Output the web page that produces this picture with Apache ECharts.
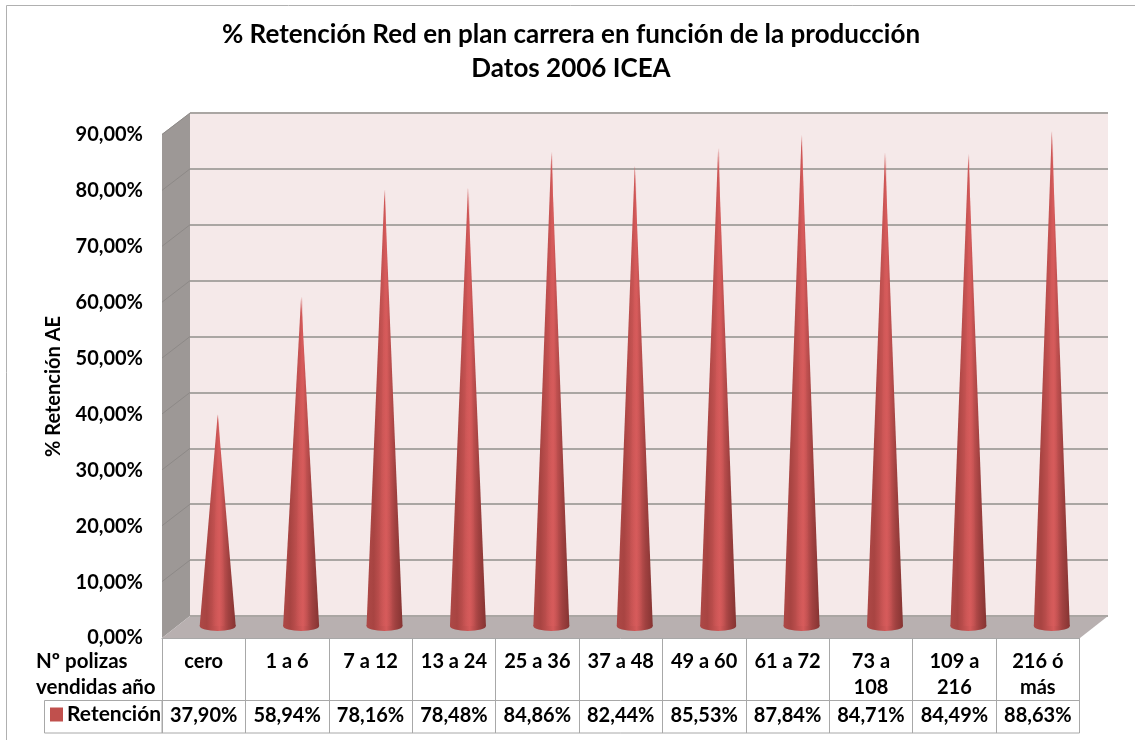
<!DOCTYPE html>
<html>
<head>
<meta charset="utf-8">
<title>% Retención Red</title>
<script src="https://cdn.jsdelivr.net/npm/echarts@6/dist/echarts.min.js"></script>
<style>
  html, body { margin: 0; padding: 0; background: #fff; }
  #myChart { width: 1135px; height: 740px; }
</style>
</head>
<body>
<div id="myChart"></div>
<script>
var categorias = ['cero', '1 a 6', '7 a 12', '13 a 24', '25 a 36', '37 a 48', '49 a 60', '61 a 72', '73 a\n108', '109 a\n216', '216 ó\nmás'];
var retencion = [37.90, 58.94, 78.16, 78.48, 84.86, 82.44, 85.53, 87.84, 84.71, 84.49, 88.63];
var titulo = '% Retención Red en plan carrera en función de la producción\nDatos 2006 ICEA';
var tituloEjeY = '% Retención AE';
var tituloFilas = ['Nº polizas', 'vendidas año'];
var ticksY = [10, 20, 30, 40, 50, 60, 70, 80, 90];

var fuente = 'Lato';
var lineaTabla = '#a8a8a8';
var rojo = '#c0504d';

function pct(v) {
  return v.toFixed(2).replace('.', ',') + '%';
}

// degradado del cono, de izquierda a derecha
var degradado = {
  type: 'linear', x: 0, y: 0, x2: 1, y2: 0,
  colorStops: [
    { offset: 0, color: '#ad4846' },
    { offset: 0.2, color: '#a84442' },
    { offset: 0.55, color: '#d45a5a' },
    { offset: 0.8, color: '#a04140' },
    { offset: 1, color: '#853432' }
  ]
};
var brillo = {
  type: 'linear', x: 0, y: 0, x2: 1, y2: 0,
  colorStops: [
    { offset: 0, color: 'rgba(216,92,92,0)' },
    { offset: 0.5, color: 'rgba(216,92,92,0.55)' },
    { offset: 1, color: 'rgba(216,92,92,0)' }
  ]
};

// paredes y suelo falsos en 3D
var decoracion = [
  { type: 'line', shape: { x1: 6.5, y1: 5.5, x2: 1135, y2: 5.5 }, style: { stroke: '#b0b0b0', lineWidth: 1 } },
  { type: 'line', shape: { x1: 6.5, y1: 5.5, x2: 6.5, y2: 740 }, style: { stroke: '#b0b0b0', lineWidth: 1 } },
  { type: 'polygon', shape: { points: [[162, 134], [190, 113], [190, 616], [162, 638]] }, style: { fill: '#9d9896' } },
  { type: 'polygon', shape: { points: [[162, 638], [190, 616], [1108, 616], [1080, 638]] }, style: { fill: '#b8b0b0' } },
  { type: 'rect', shape: { x: 44.5, y: 700.5, width: 117.5, height: 32.5 }, style: { fill: 'none', stroke: lineaTabla, lineWidth: 1 } },
  { type: 'line', shape: { x1: 162, y1: 733, x2: 1079.5, y2: 733 }, style: { stroke: lineaTabla, lineWidth: 1 } },
  { type: 'text', x: 36, y: 661, style: { text: tituloFilas[0], font: 'bold 20.5px ' + fuente, fill: '#000', textVerticalAlign: 'middle' } },
  { type: 'text', x: 36, y: 687, style: { text: tituloFilas[1], font: 'bold 20.5px ' + fuente, fill: '#000', textVerticalAlign: 'middle' } }
];
ticksY.forEach(function (t) {
  var y = 616 - t * (503 / 90);
  decoracion.push({ type: 'line', shape: { x1: 162, y1: y + 21.5, x2: 190, y2: y }, style: { stroke: '#8d8987', lineWidth: 1 } });
});

var myChart = echarts.init(document.getElementById('myChart'), null, { renderer: 'canvas' });
myChart.setOption({
  animation: false,
  backgroundColor: '#fff',
  title: {
    text: titulo,
    left: 566,
    top: 13,
    textAlign: 'center',
    textStyle: { fontFamily: fuente, fontWeight: 'bold', fontSize: 26, lineHeight: 34, color: '#000' }
  },
  legend: {
    left: 50,
    top: 704,
    padding: 0,
    itemWidth: 13,
    itemHeight: 14,
    itemGap: 0,
    selectedMode: false,
    textStyle: { fontFamily: fuente, fontWeight: 'bold', fontSize: 21, color: '#000', padding: [0, 0, 0, -1] },
    data: [{ name: 'Retención', icon: 'rect', itemStyle: { color: rojo } }]
  },
  graphic: decoracion,
  grid: [
    // frente: ejes y tabla
    { left: 162, top: 135, width: 917.5, height: 503, containLabel: false },
    // pared del fondo
    { left: 190, top: 113, width: 918, height: 503, show: true, backgroundColor: '#f5e9e9', borderWidth: 0 },
    // plano medio donde se apoyan los conos
    { left: 176, top: 123, width: 917.5, height: 503 }
  ],
  xAxis: [
    {
      gridIndex: 0, type: 'category', data: categorias, position: 'bottom',
      axisLine: { show: true, lineStyle: { color: lineaTabla, width: 1 } },
      axisTick: { show: true, length: 62, lineStyle: { color: lineaTabla, width: 1 } },
      axisLabel: { interval: 0, margin: 11, fontFamily: fuente, fontWeight: 'bold', fontSize: 20, lineHeight: 26, color: '#000', verticalAlign: 'top' }
    },
    {
      gridIndex: 0, type: 'category', data: retencion.map(pct), position: 'bottom', offset: 62,
      axisLine: { show: true, onZero: false, lineStyle: { color: lineaTabla, width: 1 } },
      axisTick: { show: true, length: 33, lineStyle: { color: lineaTabla, width: 1 } },
      axisLabel: { interval: 0, margin: 6, fontFamily: fuente, fontWeight: 'bold', fontSize: 20, color: '#000' }
    },
    { gridIndex: 1, type: 'category', data: categorias, show: false },
    { gridIndex: 2, type: 'category', data: categorias, show: false }
  ],
  yAxis: [
    {
      gridIndex: 0, type: 'value', min: 0, max: 90, interval: 10,
      name: tituloEjeY, nameLocation: 'middle', nameGap: 98, nameRotate: 90,
      nameTextStyle: { fontFamily: fuente, fontWeight: 'bold', fontSize: 20, color: '#000' },
      axisLine: { show: false }, axisTick: { show: false }, splitLine: { show: false },
      axisLabel: {
        margin: 19, fontFamily: fuente, fontWeight: 'bold', fontSize: 20, color: '#000',
        formatter: function (v) { return pct(v); }
      }
    },
    {
      gridIndex: 1, type: 'value', min: 0, max: 90, interval: 10,
      axisLine: { show: false }, axisTick: { show: false }, axisLabel: { show: false },
      splitLine: { show: true, lineStyle: { color: '#aaa6a3', width: 2 } }
    },
    {
      gridIndex: 2, type: 'value', min: 0, max: 90, interval: 10,
      axisLine: { show: false }, axisTick: { show: false }, axisLabel: { show: false }, splitLine: { show: false }
    }
  ],
  series: [
    {
      name: 'Base', type: 'pictorialBar', xAxisIndex: 3, yAxisIndex: 2, data: retencion,
      symbol: 'circle', symbolPosition: 'start', symbolSize: [36, 10], symbolOffset: [0, '50%'],
      itemStyle: { color: degradado }, z: 3, barGap: '-100%', silent: true
    },
    {
      name: 'Retención', type: 'pictorialBar', xAxisIndex: 3, yAxisIndex: 2, data: retencion,
      symbol: 'triangle', symbolPosition: 'start', symbolSize: [36, '100%'],
      itemStyle: { color: degradado }, z: 4, barGap: '-100%', silent: true
    },
    {
      name: 'Brillo', type: 'pictorialBar', xAxisIndex: 3, yAxisIndex: 2, data: retencion,
      symbol: 'triangle', symbolPosition: 'start', symbolSize: [14, '100%'], symbolOffset: [1, 0],
      itemStyle: { color: brillo }, z: 5, barGap: '-100%', silent: true
    }
  ]
});
</script>
</body>
</html>
